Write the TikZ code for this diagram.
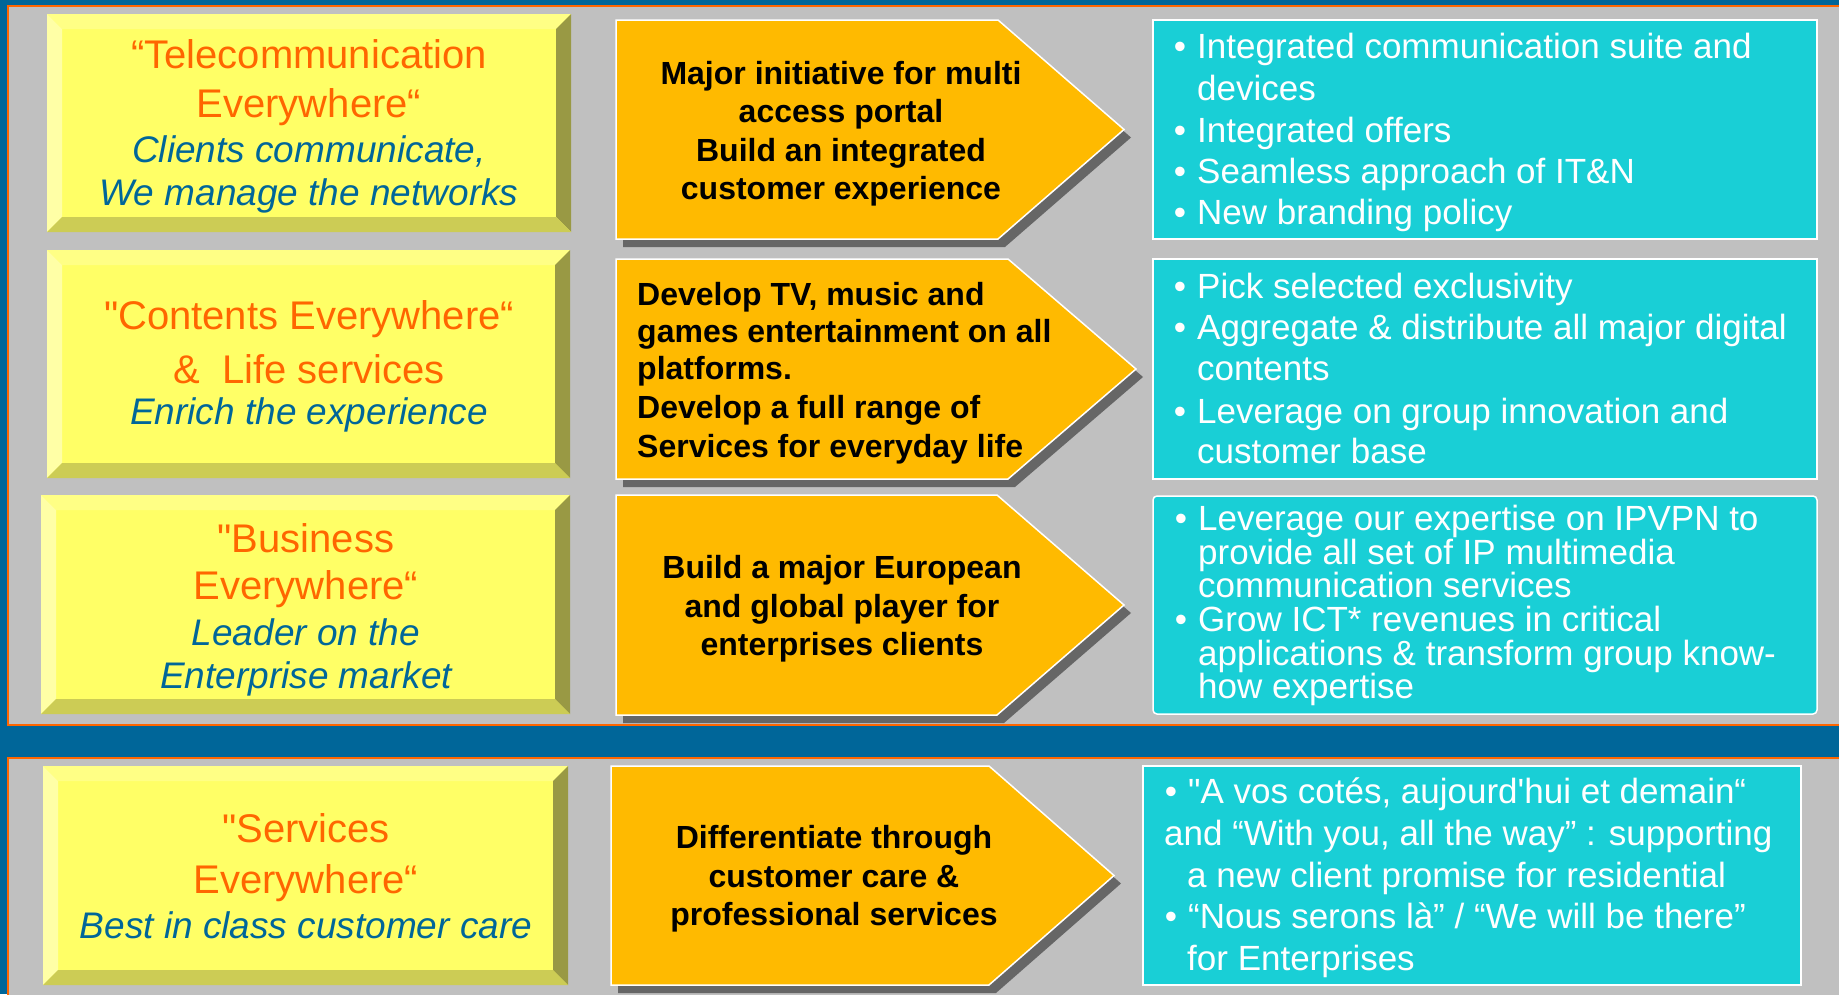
\documentclass[tikz,border=0pt]{standalone}
\usepackage{fontspec}
\setmainfont{Liberation Sans}[Ligatures=TeXOff]
\usepackage{tikz}
\definecolor{bandblue}{RGB}{0,102,153}
\definecolor{rimorange}{RGB}{255,102,0}
\definecolor{panelgray}{RGB}{192,192,192}
\definecolor{yface}{RGB}{255,255,102}
\definecolor{ytop}{RGB}{255,255,133}
\definecolor{yleft}{RGB}{255,255,166}
\definecolor{yright}{RGB}{153,153,68}
\definecolor{ybottom}{RGB}{204,204,85}
\definecolor{amber}{RGB}{255,186,0}
\definecolor{dropgray}{RGB}{102,102,102}
\definecolor{tealfill}{RGB}{25,207,214}

% bevelled rim round a yellow box node
\newcommand\bevels[1]{%
  \fill[ytop] (#1.north west) -- (#1.north east) -- ([shift={(-15pt,-15pt)}]#1.north east) -- ([shift={(15pt,-15pt)}]#1.north west) -- cycle;
  \fill[yleft] (#1.north west) -- (#1.south west) -- ([shift={(15pt,15pt)}]#1.south west) -- ([shift={(15pt,-15pt)}]#1.north west) -- cycle;
  \fill[yright] (#1.north east) -- (#1.south east) -- ([shift={(-15pt,15pt)}]#1.south east) -- ([shift={(-15pt,-15pt)}]#1.north east) -- cycle;
  \fill[ybottom] (#1.south west) -- (#1.south east) -- ([shift={(-15pt,15pt)}]#1.south east) -- ([shift={(15pt,15pt)}]#1.south west) -- cycle;}
% bullet hung to the left of the text start
\newcommand\itm{\llap{\textbullet\hspace{11pt}}}

\begin{document}
\begin{tikzpicture}[x = 1pt, y = -1pt,
  panel/.style = {fill = panelgray, draw = rimorange, line width = 2pt},
  ybox/.style = {fill = yface, inner sep = 0pt, outer sep = 0pt},
  ttl/.style = {font = {\fontsize{40}{48}\selectfont}, text = rimorange, anchor = base, inner sep = 0pt},
  sub/.style = {font = {\fontsize{37}{44}\selectfont\itshape}, text = bandblue, anchor = base, inner sep = 0pt},
  act/.style = {font = {\fontsize{32}{38}\selectfont\bfseries}, anchor = base, inner sep = 0pt},
  actl/.style = {act, anchor = base west},
  drop/.style = {fill = dropgray},
  chev/.style = {fill = amber, draw = white, line width = 1.5pt},
  tealbox/.style = {fill = tealfill, draw = white, line width = 1.5pt},
  bul/.style = {font = {\fontsize{35}{41}\selectfont}, text = white, anchor = base west, inner sep = 0pt}]

\useasboundingbox (0, 0) rectangle (1839, 994);
\fill [bandblue] (0, 0) rectangle (1839, 994);
\draw [panel] (8, 6) rectangle (1860, 725);
\draw [panel] (8, 758) rectangle (1860, 1010);

% left column
\node [ybox, minimum width = 524pt, minimum height = 218pt] (tele) at (309, 123) {};
\node [ybox, minimum width = 523pt, minimum height = 228pt] (cont) at (308.5, 364) {};
\node [ybox, minimum width = 529pt, minimum height = 219pt] (busi) at (305.5, 604.5) {};
\node [ybox, minimum width = 525pt, minimum height = 219pt] (serv) at (305.5, 875.5) {};
\bevels{tele} \bevels{cont} \bevels{busi} \bevels{serv}

\node [ttl] (tele-1) at (309, 68) {“Telecommunication};
\node [ttl] (tele-2) at (309, 117) {Everywhere“};
\node [sub] (tele-3) at (309, 162) {Clients communicate,};
\node [sub] (tele-4) at (309, 205) {We manage the networks};
\node [ttl] (cont-1) at (309, 329) {"Contents Everywhere“};
\node [ttl] (cont-2) at (309, 383) {\&\ \ Life services};
\node [sub] (cont-3) at (309, 424) {Enrich the experience};
\node [ttl] (busi-1) at (306, 552) {"Business};
\node [ttl] (busi-2) at (306, 599) {Everywhere“};
\node [sub] (busi-3) at (306, 645) {Leader on the};
\node [sub] (busi-4) at (306, 688) {Enterprise market};
\node [ttl] (serv-1) at (306, 842) {"Services};
\node [ttl] (serv-2) at (306, 893) {Everywhere“};
\node [sub] (serv-3) at (306, 938) {Best in class customer care};

% middle column
\fill [drop, xshift = 7pt, yshift = -8pt] (616, 20) -- (998, 20) -- (1124, 129.5) -- (998, 239) -- (616, 239) -- cycle;
\draw [chev] (616, 20) -- (998, 20) -- (1124, 129.5) -- (998, 239) -- (616, 239) -- cycle;
\fill [drop, xshift = 7pt, yshift = -8pt] (616, 259) -- (1008, 259) -- (1136, 369) -- (1008, 479) -- (616, 479) -- cycle;
\draw [chev] (616, 259) -- (1008, 259) -- (1136, 369) -- (1008, 479) -- (616, 479) -- cycle;
\fill [drop, xshift = 7pt, yshift = -8pt] (616, 495) -- (997, 495) -- (1124, 605) -- (997, 715) -- (616, 715) -- cycle;
\draw [chev] (616, 495) -- (997, 495) -- (1124, 605) -- (997, 715) -- (616, 715) -- cycle;
\fill [drop, xshift = 7pt, yshift = -8pt] (611, 766) -- (989, 766) -- (1114, 875.5) -- (989, 985) -- (611, 985) -- cycle;
\draw [chev] (611, 766) -- (989, 766) -- (1114, 875.5) -- (989, 985) -- (611, 985) -- cycle;

\node [act] (init-1) at (841, 84) {Major initiative for multi};
\node [act] (init-2) at (841, 122) {access portal};
\node [act] (init-3) at (841, 161) {Build an integrated};
\node [act] (init-4) at (841, 199) {customer experience};
\node [actl] (dev-1) at (637, 305) {Develop TV, music and};
\node [actl] (dev-2) at (637, 342) {games entertainment on all};
\node [actl] (dev-3) at (637, 379) {platforms.};
\node [actl] (dev-4) at (637, 418) {Develop a full range of};
\node [actl] (dev-5) at (637, 457) {Services for everyday life};
\node [act] (play-1) at (842, 578) {Build a major European};
\node [act] (play-2) at (842, 617) {and global player for};
\node [act] (play-3) at (842, 655) {enterprises clients};
\node [act] (diff-1) at (834, 848) {Differentiate through};
\node [act] (diff-2) at (834, 887) {customer care \&};
\node [act] (diff-3) at (834, 925) {professional services};

% right column
\draw [tealbox] (1153, 20) rectangle (1817, 239);
\draw [tealbox] (1153, 259) rectangle (1817, 479);
\draw [tealbox, rounded corners = 4pt] (1153, 496) rectangle (1817, 714);
\draw [tealbox] (1143, 766) rectangle (1801, 985);

\node [bul] (suite-1) at (1197, 58) {\itm Integrated communication suite and};
\node [bul] (suite-2) at (1197, 100) {devices};
\node [bul] (suite-3) at (1197, 142) {\itm Integrated offers};
\node [bul] (suite-4) at (1197, 183) {\itm Seamless approach of IT\&N};
\node [bul] (suite-5) at (1197, 224) {\itm New branding policy};
\node [bul] (pick-1) at (1197, 298) {\itm Pick selected exclusivity};
\node [bul] (pick-2) at (1197, 339) {\itm Aggregate \& distribute all major digital};
\node [bul] (pick-3) at (1197, 380) {contents};
\node [bul] (pick-4) at (1197, 423) {\itm Leverage on group innovation and};
\node [bul] (pick-5) at (1197, 463) {customer base};
\node [bul] (ipvpn-1) at (1198, 530) {\itm Leverage our expertise on IPVPN to};
\node [bul] (ipvpn-2) at (1198, 564) {provide all set of IP multimedia};
\node [bul] (ipvpn-3) at (1198, 597) {communication services};
\node [bul] (ipvpn-4) at (1198, 631) {\itm Grow ICT* revenues in critical};
\node [bul] (ipvpn-5) at (1198, 665) {applications \& transform group know-};
\node [bul] (ipvpn-6) at (1198, 698) {how expertise};
\node [bul] (care-1) at (1188, 803) {\itm "A vos cotés, aujourd'hui et demain“};
\node [bul] (care-2) at (1164, 845) {and “With you, all the way” : supporting};
\node [bul] (care-3) at (1187, 887) {a new client promise for residential};
\node [bul] (care-4) at (1188, 928) {\itm “Nous serons là” / “We will be there”};
\node [bul] (care-5) at (1187, 970) {for Enterprises};

\end{tikzpicture}
\end{document}
